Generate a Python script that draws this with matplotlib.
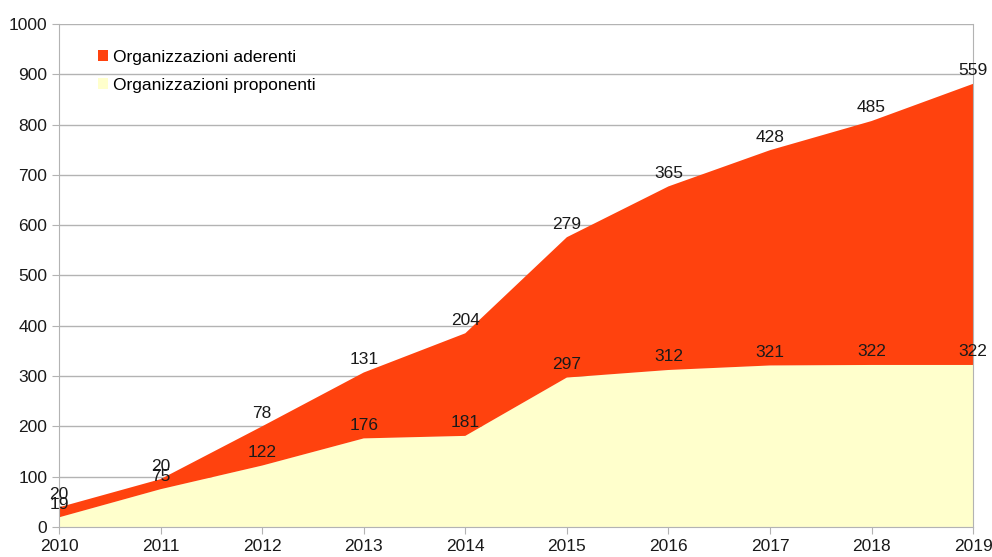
import numpy as np
import matplotlib
matplotlib.use("Agg")
import matplotlib.pyplot as plt

plt.rcParams['font.family'] = ['Liberation Sans', 'DejaVu Sans']

anni = [2010, 2011, 2012, 2013, 2014, 2015, 2016, 2017, 2018, 2019]
proponenti = [19, 75, 122, 176, 181, 297, 312, 321, 322, 322]
aderenti = [20, 20, 78, 131, 204, 279, 365, 428, 485, 559]

totale = np.array(proponenti) + np.array(aderenti)

fig = plt.figure(figsize=(9.92, 5.57), dpi=100)
ax = fig.add_axes([0.0595, 0.054, 0.9215, 0.903])

ax.stackplot(anni, proponenti, aderenti,
             colors=['#FFFFCC', '#FF420E'],
             labels=['Organizzazioni proponenti', 'Organizzazioni aderenti'])

for x, p in zip(anni, proponenti):
    ax.annotate(str(p), (x, p), xytext=(0, 4), textcoords='offset points',
                ha='center', va='bottom', fontsize=12.5, color='#1a1a1a')
for x, t, a in zip(anni, totale, aderenti):
    ax.annotate(str(a), (x, t), xytext=(0, 4), textcoords='offset points',
                ha='center', va='bottom', fontsize=12.5, color='#1a1a1a')

ax.set_xlim(2010, 2019)
ax.set_ylim(0, 1000)
ax.set_xticks(anni)
ax.set_yticks(range(0, 1001, 100))
ax.tick_params(labelsize=12.5, colors='#b3b3b3', labelcolor='#1a1a1a', length=5)
ax.yaxis.grid(True, color='#b3b3b3', linewidth=1)
ax.set_axisbelow(True)
ax.spines['top'].set_visible(False)
for s in ['left', 'bottom', 'right']:
    ax.spines[s].set_color('#b3b3b3')

h, l = ax.get_legend_handles_labels()
ax.legend(h[::-1], l[::-1], loc='upper left', bbox_to_anchor=(0.025, 0.98),
          frameon=False, fontsize=12.5, handlelength=0.6, handleheight=0.6,
          handletextpad=0.3, labelspacing=0.75)

plt.savefig('out.png')
